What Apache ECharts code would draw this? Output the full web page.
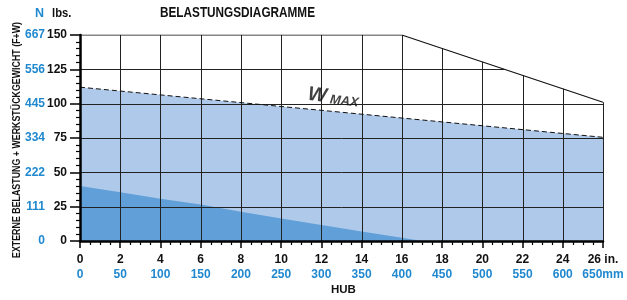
<!DOCTYPE html>
<html>
<head>
<meta charset="utf-8">
<script src="https://cdn.jsdelivr.net/npm/echarts@6/dist/echarts.min.js"></script>
<style>
  html, body { margin: 0; padding: 0; background: #fff; }
  #chart { width: 627px; height: 300px; }
</style>
</head>
<body>
<div id="chart"></div>
<script>
const FONT = "'Liberation Sans', Arial, sans-serif"
const BLUE_TEXT = '#1f88cf'

// hub (in.) on x, load (lbs) on y
const strokeTicks = [0, 2, 4, 6, 8, 10, 12, 14, 16, 18, 20, 22, 24, 26]
const strokeMm = [0, 50, 100, 150, 200, 250, 300, 350, 400, 450, 500, 550, 600, 650]
const loadTicks = [0, 25, 50, 75, 100, 125, 150]
const loadNewton = ['0', '111', '222', '334', '445', '556', '667']

// W max (dashed, light area)
const wMaxCurve = [[0, 112], [26, 75.5]]
// F+W (dark area)
const fwCurve = [[0, 40], [2, 35.5], [4, 30.8], [6, 26.5], [8, 21.3], [10, 16.3],
  [12, 11.7], [14, 6.9], [16, 2.4], [17, 0], [26, 0]]
// outer envelope of the diagram
const envelope = [[0, 150], [16, 150], [26, 101]]
const gridXs = [2, 4, 6, 8, 10, 12, 14, 16, 18, 20, 22, 24, 26]
const gridYs = [25, 50, 75, 100, 125]
const wMaxLabelAt = [[12.6, 104.5]]

const TITLE = 'BELASTUNGSDIAGRAMME'
const Y_NAME = 'EXTERNE BELASTUNG + WERKSTÜCKGEWICHT (F+W)'

// top of the envelope at a given stroke
function envTop(x) {
  for (let i = 1; i < envelope.length; i++) {
    const [x0, y0] = envelope[i - 1]
    const [x1, y1] = envelope[i]
    if (x <= x1) return y0 + (y1 - y0) * (x - x0) / (x1 - x0)
  }
  return envelope[envelope.length - 1][1]
}
// right end of the envelope at a given load
function envRight(y) {
  for (let i = envelope.length - 1; i > 0; i--) {
    const [x0, y0] = envelope[i - 1]
    const [x1, y1] = envelope[i]
    if (y <= y1) return x1
    if (y <= y0) return x0 + (x1 - x0) * (y0 - y) / (y0 - y1)
  }
  return envelope[0][0]
}

// squeeze wide text so it spans the same width as the condensed original
const measureCtx = document.createElement('canvas').getContext('2d')
function squeeze(text, font, targetWidth) {
  measureCtx.font = font
  return Math.min(1, targetWidth / measureCtx.measureText(text).width)
}

const crisp = v => Math.round(v) + 0.5

const titleFont = `bold 15px ${FONT}`
const yNameFont = `bold 11px ${FONT}`

const chart = echarts.init(document.getElementById('chart'))

chart.setOption({
  animation: false,
  textStyle: { fontFamily: FONT },
  graphic: [
    {
      type: 'text', x: 160, y: 13, scaleX: squeeze(TITLE, titleFont, 155),
      style: { text: TITLE, font: titleFont, fill: '#111', textVerticalAlign: 'middle' },
    },
    {
      type: 'text', x: 17, y: 140, rotation: Math.PI / 2, scaleX: squeeze(Y_NAME, yNameFont, 236),
      style: { text: Y_NAME, font: yNameFont, fill: '#111', textAlign: 'center', textVerticalAlign: 'middle' },
    },
    { type: 'text', x: 35, y: 14, style: { text: 'N', font: `bold 12.5px ${FONT}`, fill: BLUE_TEXT, textVerticalAlign: 'middle' } },
    { type: 'text', x: 52, y: 14, scaleX: 0.9, style: { text: 'lbs.', font: `bold 12.5px ${FONT}`, fill: '#111', textVerticalAlign: 'middle' } },
    { type: 'text', x: 331, y: 290, style: { text: 'HUB', font: `bold 11.5px ${FONT}`, fill: '#111', textVerticalAlign: 'middle' } },
  ],
  grid: { left: 80, right: 24, top: 35, bottom: 59 },
  xAxis: {
    type: 'value',
    min: 0,
    max: 26,
    interval: 2,
    z: 10,
    axisLine: { lineStyle: { color: '#000', width: 2.5 } },
    axisTick: { length: 7, lineStyle: { color: '#000', width: 1.5 } },
    minorTick: { show: true, splitNumber: 4, length: 4, lineStyle: { color: '#000', width: 1.2 } },
    splitLine: { show: false },
    axisLabel: {
      margin: 11,
      formatter: v => {
        const i = strokeTicks.indexOf(v)
        if (v === 26) return `{a|${v} in.}\n{b|${strokeMm[i]}mm}`
        return `{a|${v}}\n{b|${strokeMm[i]}}`
      },
      rich: {
        a: { fontFamily: FONT, fontWeight: 'bold', fontSize: 12, color: '#111', lineHeight: 15 },
        b: { fontFamily: FONT, fontWeight: 'bold', fontSize: 12, color: BLUE_TEXT, lineHeight: 15 },
      },
    },
  },
  yAxis: [
    {
      type: 'value',
      min: 0,
      max: 150,
      interval: 25,
      z: 10,
      axisLine: { show: true, lineStyle: { color: '#000', width: 2.5 } },
      axisTick: { show: true, length: 10, lineStyle: { color: '#000', width: 1.5 } },
      minorTick: { show: true, splitNumber: 5, length: 4, lineStyle: { color: '#000', width: 1.2 } },
      splitLine: { show: false },
      axisLabel: {
        margin: 13,
        fontFamily: FONT, fontWeight: 'bold', fontSize: 12, color: '#111',
      },
    },
    {
      type: 'value',
      position: 'left',
      min: 0,
      max: 150,
      interval: 25,
      axisLine: { show: false },
      axisTick: { show: false },
      splitLine: { show: false },
      axisLabel: {
        margin: 35,
        fontFamily: FONT, fontWeight: 'bold', fontSize: 12, color: BLUE_TEXT,
        formatter: v => loadNewton[loadTicks.indexOf(v)],
      },
    },
  ],
  series: [
    {
      type: 'line',
      data: wMaxCurve,
      symbol: 'none',
      lineStyle: { width: 0 },
      areaStyle: { color: '#aec9ea', opacity: 1 },
      z: 1,
    },
    {
      type: 'line',
      data: fwCurve,
      symbol: 'none',
      lineStyle: { width: 0 },
      areaStyle: { color: '#609fd7', opacity: 1 },
      z: 2,
    },
    {
      type: 'custom',
      z: 3,
      data: gridXs.map(x => [x, envTop(x)]),
      renderItem: (params, api) => {
        const p0 = api.coord([api.value(0), 0])
        const p1 = api.coord([api.value(0), api.value(1)])
        return {
          type: 'line',
          shape: { x1: crisp(p0[0]), y1: p0[1], x2: crisp(p1[0]), y2: p1[1] },
          style: { stroke: '#222', lineWidth: 1 },
        }
      },
    },
    {
      type: 'custom',
      z: 3,
      data: gridYs.map(y => [envRight(y), y]),
      renderItem: (params, api) => {
        const p0 = api.coord([0, api.value(1)])
        const p1 = api.coord([api.value(0), api.value(1)])
        return {
          type: 'line',
          shape: { x1: p0[0], y1: crisp(p0[1]), x2: p1[0], y2: crisp(p1[1]) },
          style: { stroke: '#222', lineWidth: 1 },
        }
      },
    },
    {
      type: 'line',
      data: wMaxCurve,
      symbol: 'none',
      z: 4,
      lineStyle: { color: '#111', width: 1, type: [5, 3] },
    },
    {
      type: 'line',
      data: envelope,
      symbol: 'none',
      z: 4,
      lineStyle: { color: '#111', width: 1.2 },
    },
    {
      type: 'scatter',
      data: wMaxLabelAt,
      symbolSize: 0,
      z: 5,
      label: {
        show: true,
        position: 'inside',
        rotate: -7,
        formatter: '{w|W}{m| MAX}',
        rich: {
          w: { fontFamily: FONT, fontWeight: 'bold', fontStyle: 'italic', fontSize: 20, color: '#111' },
          m: { fontFamily: FONT, fontWeight: 'bold', fontStyle: 'italic', fontSize: 13, color: '#111', padding: [5, 0, 0, 0] },
        },
      },
    },
  ],
})
</script>
</body>
</html>
